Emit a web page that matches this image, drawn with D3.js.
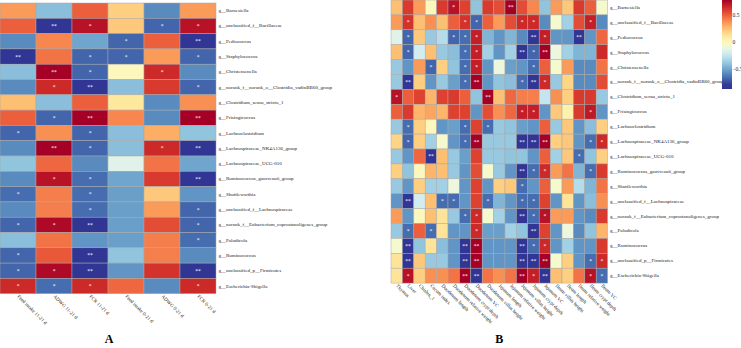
<!DOCTYPE html>
<html>
<head>
<meta charset="utf-8">
<script src="https://cdn.jsdelivr.net/npm/d3@7"></script>
<style>
  body { margin: 0; background: #fff; }
  svg { display: block; font-family: "Liberation Serif", "Times New Roman", serif; }
</style>
</head>
<body>
<div id="chart"></div>
<script>
// genera (rows, same order in both panels)
const genera = [
  "g__Barnesiella", "g__unclassified_f__Bacillaceae", "g__Pediococcus", "g__Staphylococcus",
  "g__Christensenella", "g__norank_f__norank_o__Clostridia_vadinBB60_group",
  "g__Clostridium_sensu_stricto_1", "g__Frisingicoccus", "g__Lachnoclostridium",
  "g__Lachnospiraceae_NK4A136_group", "g__Lachnospiraceae_UCG-010",
  "g__Ruminococcus_gauvreauii_group", "g__Shuttleworthia", "g__unclassified_f__Lachnospiraceae",
  "g__norank_f__Eubacterium_coprostanoligenes_group", "g__Paludicola", "g__Ruminococcus",
  "g__unclassified_p__Firmicutes", "g__Escherichia-Shigella"
];

// panel A columns
const growthTraits = [
  "Feed intake 11-21 d", "ADWG 11-21 d", "FCR 11-21 d",
  "Feed intake 0-21 d", "ADWG 0-21 d", "FCR 0-21 d"
];

// panel B columns
const organTraits = [
  "Thymus", "Liver", "Chislen_1", "Cecum index", "Duodenum length",
  "Duodenum relative weight", "Duodenum crypt depth", "Duodenum VC", "Duodenum villus height",
  "Jejunum length", "Jejunum relative weight", "Jejunum villus height", "Jejunum crypt depth",
  "Jejunum VC", "Ileum villus height", "Ileum length", "Ileum relative weight",
  "Ileum crypt depth", "Ileum VC"
];

// correlations, panel A
const growthCorr = [
  [0.35, -0.42, 0.5, 0.2, -0.58, 0.35],
  [0.5, -0.82, 0.72, 0.22, -0.68, 0.72],
  [-0.58, 0.4, -0.5, -0.68, 0.5, -0.8],
  [-0.82, 0.45, -0.68, -0.68, 0.35, -0.68],
  [-0.42, 0.78, -0.68, 0.0, 0.65, -0.58],
  [-0.58, 0.65, -0.82, -0.42, 0.6, -0.68],
  [0.25, -0.42, 0.5, 0.1, -0.58, 0.38],
  [0.5, -0.68, 0.78, 0.4, -0.58, 0.78],
  [-0.68, 0.38, -0.68, -0.42, 0.3, -0.4],
  [-0.58, 0.78, -0.68, -0.42, 0.65, -0.82],
  [-0.4, 0.48, -0.58, -0.15, 0.45, -0.5],
  [-0.58, 0.72, -0.66, -0.5, 0.6, -0.82],
  [-0.66, 0.42, -0.66, -0.52, 0.22, -0.55],
  [-0.58, 0.42, -0.66, -0.52, 0.35, -0.68],
  [-0.68, 0.75, -0.82, -0.52, 0.55, -0.68],
  [-0.42, 0.45, -0.55, -0.52, 0.42, -0.66],
  [-0.68, 0.52, -0.82, -0.4, 0.42, -0.58],
  [-0.68, 0.75, -0.82, -0.55, 0.62, -0.82],
  [0.65, -0.66, 0.65, 0.48, -0.58, 0.65]
];

// significance marks, panel A (0 none, 1 *, 2 **)
const growthSig = [
  [0, 0, 0, 0, 0, 0],
  [0, 2, 1, 0, 1, 1],
  [0, 0, 0, 1, 0, 2],
  [2, 0, 1, 1, 0, 1],
  [0, 2, 1, 0, 1, 0],
  [0, 1, 2, 0, 0, 1],
  [0, 0, 0, 0, 0, 0],
  [0, 1, 2, 0, 0, 2],
  [1, 0, 1, 0, 0, 0],
  [0, 2, 1, 0, 1, 2],
  [0, 0, 0, 0, 0, 0],
  [0, 1, 1, 0, 0, 2],
  [1, 0, 1, 0, 0, 0],
  [0, 0, 1, 0, 0, 1],
  [1, 1, 2, 0, 0, 1],
  [0, 0, 0, 0, 0, 1],
  [1, 0, 2, 0, 0, 0],
  [1, 1, 2, 0, 0, 2],
  [1, 1, 1, 0, 0, 1]
];

// correlations, panel B
const organCorr = [
  [0.25, 0.6, 0.35, 0.0, 0.6, 0.72, 0.58, -0.4, 0.6, 0.55, 0.78, 0.55, 0.4, -0.4, 0.35, 0.22, 0.6, 0.5, -0.05],
  [0.35, 0.62, 0.25, 0.38, 0.25, 0.5, 0.62, -0.68, 0.5, 0.35, 0.55, 0.65, 0.65, -0.58, -0.05, -0.35, 0.55, 0.68, -0.58],
  [-0.15, -0.68, 0.22, -0.38, -0.3, -0.68, -0.66, 0.68, -0.45, -0.55, -0.45, -0.58, -0.82, 0.68, -0.55, -0.55, -0.82, -0.55, 0.48],
  [0.25, -0.68, -0.2, 0.25, -0.38, -0.42, -0.66, 0.68, -0.35, -0.55, -0.35, -0.82, -0.68, 0.78, -0.1, -0.35, -0.45, -0.45, 0.65],
  [-0.38, -0.55, 0.35, -0.68, 0.2, -0.4, -0.66, 0.68, -0.55, -0.1, -0.52, -0.55, -0.66, 0.5, -0.05, 0.35, -0.58, -0.58, 0.45],
  [-0.38, -0.82, 0.2, -0.55, -0.38, -0.52, -0.66, 0.78, -0.55, -0.4, -0.42, -0.66, -0.82, 0.65, -0.38, 0.18, -0.58, -0.58, 0.55],
  [0.72, 0.5, 0.58, 0.28, 0.58, 0.6, 0.5, -0.4, 0.78, 0.25, 0.48, 0.42, 0.42, -0.25, 0.38, 0.2, 0.6, 0.6, -0.38],
  [0.5, 0.6, 0.28, 0.32, 0.28, 0.58, 0.58, -0.55, 0.55, 0.38, 0.48, 0.68, 0.68, -0.55, 0.22, 0.05, 0.6, 0.7, -0.55],
  [-0.38, -0.66, 0.2, 0.0, -0.55, -0.52, -0.66, 0.58, -0.66, -0.38, -0.4, -0.52, -0.55, 0.5, -0.38, 0.22, -0.55, -0.42, 0.2],
  [0.18, -0.68, 0.2, -0.35, -0.05, -0.55, -0.66, 0.78, -0.38, -0.38, -0.38, -0.82, -0.82, 0.78, 0.2, 0.22, -0.55, -0.66, 0.65],
  [-0.38, -0.55, 0.48, -0.82, 0.25, -0.38, -0.52, 0.58, -0.38, -0.38, -0.4, -0.4, -0.55, 0.5, -0.35, 0.22, -0.66, -0.4, 0.2],
  [0.2, -0.4, 0.0, 0.28, 0.25, -0.38, -0.55, 0.55, -0.05, -0.38, -0.55, -0.82, -0.66, 0.65, 0.35, 0.45, -0.45, -0.66, 0.6],
  [-0.38, -0.55, 0.2, -0.35, -0.35, -0.1, -0.55, 0.58, -0.55, 0.2, 0.22, -0.66, -0.55, 0.5, -0.05, 0.35, -0.3, -0.45, 0.45],
  [-0.55, -0.82, -0.2, 0.25, -0.66, -0.66, -0.55, 0.58, -0.66, -0.45, -0.55, -0.66, -0.66, 0.58, -0.55, 0.12, -0.55, -0.42, 0.38],
  [0.35, -0.55, 0.0, 0.25, 0.12, -0.38, -0.66, 0.65, -0.05, -0.35, -0.55, -0.82, -0.66, 0.72, 0.35, 0.35, -0.55, -0.58, 0.6],
  [-0.38, -0.66, 0.5, -0.66, 0.12, -0.55, -0.55, 0.65, -0.52, -0.52, -0.35, -0.4, -0.82, 0.58, -0.55, -0.1, -0.58, -0.4, 0.28],
  [-0.05, -0.82, -0.4, 0.12, -0.42, -0.55, -0.8, 0.78, -0.55, -0.55, -0.55, -0.82, -0.66, 0.65, -0.55, -0.35, -0.55, -0.55, 0.6],
  [0.12, -0.82, 0.22, -0.38, -0.38, -0.55, -0.82, 0.78, -0.55, -0.55, -0.55, -0.82, -0.82, 0.78, -0.05, 0.2, -0.55, -0.66, 0.65],
  [0.12, 0.72, 0.2, 0.38, 0.38, 0.45, 0.78, -0.82, 0.45, 0.38, 0.45, 0.78, 0.68, -0.82, 0.25, 0.2, 0.45, 0.72, -0.66]
];

// significance marks, panel B
const organSig = [
  [0, 0, 0, 0, 0, 1, 0, 0, 0, 0, 2, 0, 0, 0, 0, 0, 0, 0, 0],
  [0, 1, 0, 0, 0, 0, 1, 1, 0, 0, 0, 1, 1, 0, 0, 0, 0, 1, 0],
  [0, 1, 0, 0, 0, 1, 1, 1, 0, 0, 0, 0, 2, 1, 0, 0, 2, 0, 0],
  [0, 1, 0, 0, 0, 0, 1, 1, 0, 0, 0, 2, 1, 2, 0, 0, 0, 0, 0],
  [0, 0, 0, 1, 0, 0, 1, 1, 0, 0, 0, 0, 1, 0, 0, 0, 0, 0, 0],
  [0, 2, 0, 0, 0, 0, 1, 2, 0, 0, 0, 1, 2, 1, 0, 0, 0, 0, 0],
  [1, 0, 0, 0, 0, 0, 0, 0, 2, 0, 0, 0, 0, 0, 0, 0, 0, 0, 0],
  [0, 0, 0, 0, 0, 0, 0, 0, 0, 0, 0, 1, 1, 0, 0, 0, 0, 1, 0],
  [0, 1, 0, 0, 0, 0, 1, 0, 1, 0, 0, 0, 0, 0, 0, 0, 0, 0, 0],
  [0, 1, 0, 0, 0, 0, 1, 2, 0, 0, 0, 2, 2, 2, 0, 0, 0, 1, 1],
  [0, 0, 0, 2, 0, 0, 0, 0, 0, 0, 0, 0, 0, 0, 0, 0, 1, 0, 0],
  [0, 0, 0, 0, 0, 0, 0, 0, 0, 0, 0, 2, 1, 1, 0, 0, 0, 1, 0],
  [0, 0, 0, 0, 0, 0, 0, 0, 0, 0, 0, 1, 0, 0, 0, 0, 0, 0, 0],
  [0, 2, 0, 0, 1, 1, 0, 0, 1, 0, 0, 1, 1, 0, 0, 0, 0, 0, 0],
  [0, 0, 0, 0, 0, 0, 1, 1, 0, 0, 0, 2, 1, 1, 0, 0, 0, 0, 0],
  [0, 1, 0, 1, 0, 0, 0, 1, 0, 0, 0, 0, 2, 0, 0, 0, 0, 0, 0],
  [0, 2, 0, 0, 0, 0, 2, 2, 0, 0, 0, 2, 1, 1, 0, 0, 0, 0, 0],
  [0, 2, 0, 0, 0, 0, 2, 2, 0, 0, 0, 2, 2, 2, 0, 0, 0, 1, 1],
  [0, 1, 0, 0, 0, 0, 2, 2, 0, 0, 0, 2, 1, 2, 0, 0, 0, 1, 1]
];

const legendDomain = [-0.87, 0.78];
const legendTicks = [0.5, 0, -0.5];

const width = 741;
const height = 348;

const svg = d3.select("#chart").append("svg")
  .attr("width", width)
  .attr("height", height);

// red = positive, blue = negative
const color = d3.scaleSequential(d3.interpolateRdYlBu).domain([0.78, -0.8]);
const starText = ["", "*", "**"];

function drawHeatmap(cols, values, sig, left, top, cellW, cellH, letter) {
  const g = svg.append("g");
  const x = d3.scaleBand().domain(cols).range([left, left + cellW * cols.length]);
  const y = d3.scaleBand().domain(genera).range([top, top + cellH * genera.length]);

  const cells = [];
  values.forEach((row, i) => row.forEach((v, j) => {
    cells.push({ r: genera[i], c: cols[j], v: v, s: sig[i][j] });
  }));

  g.selectAll("rect.cell")
    .data(cells)
    .join("rect")
    .attr("class", "cell")
    .attr("x", d => x(d.c))
    .attr("y", d => y(d.r))
    .attr("width", x.bandwidth())
    .attr("height", y.bandwidth())
    .attr("fill", d => color(d.v))
    .attr("stroke", "#a8a8a8")
    .attr("stroke-width", 0.5);

  // stars
  g.selectAll("text.star")
    .data(cells.filter(d => d.s > 0))
    .join("text")
    .attr("class", "star")
    .attr("x", d => x(d.c) + x.bandwidth() / 2)
    .attr("y", d => y(d.r) + y.bandwidth() / 2 + 2)
    .attr("text-anchor", "middle")
    .attr("fill", "#fff")
    .style("font-size", "5.5px")
    .text(d => starText[d.s]);

  // row labels on the right
  const right = left + cellW * cols.length;
  g.selectAll("text.row")
    .data(genera)
    .join("text")
    .attr("class", "row")
    .attr("x", right + 2.5)
    .attr("y", d => y(d) + y.bandwidth() / 2)
    .attr("dominant-baseline", "central")
    .attr("fill", "#222")
    .style("font-size", "5px")
    .text(d => d);

  // column labels, tilted 45 degrees
  const bottom = top + cellH * genera.length;
  g.selectAll("text.col")
    .data(cols)
    .join("text")
    .attr("class", "col")
    .attr("transform", d => `translate(${x(d) + x.bandwidth() / 2 - 1},${bottom + 3}) rotate(45)`)
    .attr("fill", "#222")
    .style("font-size", "5px")
    .text(d => d);

  // panel letter
  svg.append("text")
    .attr("x", left + cellW * cols.length / 2 + (letter === "A" ? 1 : 0))
    .attr("y", 343)
    .attr("text-anchor", "middle")
    .style("font-size", "12px")
    .style("font-weight", "bold")
    .text(letter);
}

drawHeatmap(growthTraits, growthCorr, growthSig, 0, 3, 36, 15.3, "A");
drawHeatmap(organTraits, organCorr, organSig, 391, 0, 11.4, 14.9, "B");

// colour legend
const lx = 722, lw = 10, ltop = 0, lh = 89;
const ly = d3.scaleLinear().domain(legendDomain).range([ltop + lh, ltop]);

const defs = svg.append("defs");
const grad = defs.append("linearGradient")
  .attr("id", "legend-grad")
  .attr("x1", 0).attr("y1", 1).attr("x2", 0).attr("y2", 0);
grad.selectAll("stop")
  .data(d3.range(0, 1.001, 0.05))
  .join("stop")
  .attr("offset", d => d)
  .attr("stop-color", d => color(legendDomain[0] + d * (legendDomain[1] - legendDomain[0])));

svg.append("rect")
  .attr("x", lx)
  .attr("y", ltop)
  .attr("width", lw)
  .attr("height", lh)
  .attr("fill", "url(#legend-grad)");

const legendAxis = d3.axisRight(ly)
  .tickValues(legendTicks)
  .tickSize(0)
  .tickPadding(0)
  .tickFormat(d => d < 0 ? "\u2212" + Math.abs(d) : d);

svg.append("g")
  .attr("transform", `translate(${lx + lw + 0.5},0)`)
  .call(legendAxis)
  .call(g => g.select(".domain").remove())
  .call(g => g.selectAll("text")
    .attr("fill", "#222")
    .style("font-family", "'Liberation Serif', serif")
    .style("font-size", "5.5px"));
</script>
</body>
</html>
